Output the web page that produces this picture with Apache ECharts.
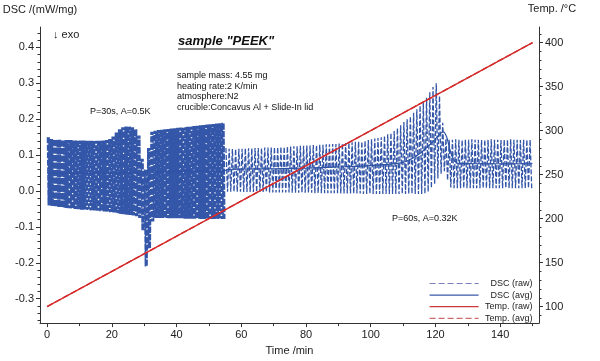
<!DOCTYPE html>
<html><head><meta charset="utf-8">
<script src="https://cdn.jsdelivr.net/npm/echarts@6/dist/echarts.min.js"></script>
<style>html,body{margin:0;padding:0;background:#fff}#c{width:600px;height:361px}</style>
</head><body><div id="c"></div>
<script>
// ---- tick labels ----
const xTicks = [0, 20, 40, 60, 80, 100, 120, 140];
const dscTicks = [-0.3, -0.2, -0.1, 0.0, 0.1, 0.2, 0.3, 0.4];
const tempTicks = [100, 150, 200, 250, 300, 350, 400];

// ---- DSC raw envelope, read per minute ----
// segment 1: minutes 0..54, P = 30 s (two cycles per minute)
const seg1Upper = [0.150,0.145,0.144,0.143,0.143,0.142,0.142,0.142,0.141,0.141,
  0.141,0.141,0.140,0.140,0.140,0.140,0.140,0.141,0.142,0.145,
  0.152,0.163,0.172,0.178,0.180,0.180,0.178,0.172,0.155,0.090,
  0.060,0.120,0.165,0.168,0.170,0.171,0.172,0.173,0.174,0.175,
  0.176,0.177,0.178,0.179,0.180,0.181,0.182,0.183,0.184,0.185,
  0.186,0.187,0.188,0.189,0.190];
const seg1Lower = [-0.040,-0.042,-0.044,-0.045,-0.046,-0.047,-0.048,-0.049,-0.050,-0.051,
  -0.052,-0.052,-0.053,-0.054,-0.054,-0.055,-0.056,-0.057,-0.058,-0.059,
  -0.060,-0.062,-0.064,-0.065,-0.066,-0.067,-0.068,-0.070,-0.075,-0.110,
  -0.210,-0.160,-0.085,-0.075,-0.075,-0.075,-0.075,-0.076,-0.076,-0.076,
  -0.076,-0.076,-0.077,-0.077,-0.077,-0.077,-0.077,-0.078,-0.078,-0.078,
  -0.078,-0.078,-0.078,-0.078,-0.078];
// segment 2: minutes 55..149, P = 60 s (one cycle per minute)
const seg2Upper = [0.120,0.118,0.117,0.117,0.118,0.118,0.119,0.119,0.119,0.120,
  0.120,0.120,0.121,0.121,0.121,0.122,0.122,0.123,0.123,0.124,
  0.124,0.125,0.125,0.126,0.126,0.127,0.127,0.128,0.128,0.129,
  0.129,0.130,0.130,0.131,0.131,0.132,0.133,0.134,0.135,0.136,
  0.137,0.138,0.138,0.140,0.142,0.144,0.146,0.148,0.150,0.154,
  0.158,0.162,0.167,0.175,0.183,0.192,0.200,0.208,0.218,0.228,
  0.238,0.248,0.260,0.275,0.290,0.300,0.265,0.190,0.146,0.143,
  0.143,0.144,0.143,0.142,0.143,0.143,0.144,0.143,0.143,0.142,
  0.143,0.143,0.144,0.143,0.143,0.142,0.143,0.143,0.144,0.143,
  0.143,0.142,0.143,0.143,0.143];
const seg2Lower = [-0.002,-0.002,-0.002,-0.002,-0.002,-0.003,-0.003,-0.003,-0.003,-0.003,
  -0.003,-0.003,-0.003,-0.004,-0.004,-0.004,-0.004,-0.004,-0.004,-0.004,
  -0.005,-0.005,-0.005,-0.005,-0.005,-0.005,-0.005,-0.006,-0.006,-0.006,
  -0.006,-0.006,-0.006,-0.006,-0.006,-0.007,-0.007,-0.007,-0.007,-0.007,
  -0.007,-0.007,-0.008,-0.008,-0.008,-0.008,-0.008,-0.008,-0.008,-0.008,
  -0.008,-0.008,-0.008,-0.008,-0.008,-0.008,-0.008,-0.008,-0.008,-0.008,
  -0.008,-0.008,-0.002,0.008,0.020,0.035,0.048,0.055,0.030,0.010,
  0.008,0.008,0.008,0.008,0.008,0.008,0.008,0.008,0.008,0.008,
  0.008,0.008,0.008,0.008,0.008,0.008,0.008,0.008,0.008,0.008,
  0.008,0.008,0.008,0.008,0.008];

// ---- DSC averaged ----
const avgTime  = [0, 10, 20, 25, 28, 29, 30, 31, 32, 35, 45, 54.5, 56, 70, 80, 90, 100, 106, 110, 112, 115, 118, 120, 122.4, 123.5, 124.5, 125.5, 127, 135, 150];
const avgValue = [0.050, 0.050, 0.050, 0.052, 0.050, 0.035, 0.010, 0.025, 0.050, 0.054, 0.055, 0.056, 0.060, 0.062, 0.064, 0.067, 0.071, 0.075, 0.080, 0.087, 0.103, 0.127, 0.145, 0.165, 0.150, 0.114, 0.090, 0.077, 0.076, 0.076];

// ---- temperature ----
const tempTime  = [0, 25, 50, 75, 100, 125, 150];
const tempValue = [100, 150, 200, 250, 300, 350, 400];

// build raw oscillation from the per-minute envelopes
const raw1 = [];
seg1Upper.forEach((u, m) => {
  for (let k = 0; k < 2; k++) {
    raw1.push([m + k * 0.5 + 0.125, u]);
    raw1.push([m + k * 0.5 + 0.375, seg1Lower[m]]);
  }
});
const raw2 = [];
seg2Upper.forEach((u, i) => {
  const m = 55 + i;
  raw2.push([m + 0.25, u]);
  raw2.push([m + 0.75, seg2Lower[i]]);
});
const avg = avgTime.map((t, i) => [t, avgValue[i]]);
const temp = tempTime.map((t, i) => [t, tempValue[i]]);

const range = (a, b, s) => { const r = []; for (let v = a; v <= b + 1e-9; v += s) r.push(+v.toFixed(4)); return r; };
const dscMinor = range(-0.36, 0.44, 0.02).filter(v => Math.abs(Math.round(v * 10) - v * 10) > 1e-6);
const tempMinor = range(90, 410, 10).filter(v => v % 50 !== 0);
const xMinor = range(10, 150, 20);

const FONT = 'Liberation Sans, Arial, sans-serif';
const AX = '#333';
const BLUE = '#3456a8';
const RED = '#d42a2a';

const chart = echarts.init(document.getElementById('c'), null, {renderer: 'canvas'});
const lbl = {color: '#222', fontSize: 11, fontFamily: FONT};
const noLine = {show: false, onZero: false};
chart.setOption({
  animation: false,
  backgroundColor: '#fff',
  textStyle: {fontFamily: FONT},
  grid: {left: 40, right: 61, top: 27, bottom: 30},
  xAxis: [{
    type: 'value', min: -2.2, max: 152,
    name: 'Time /min', nameLocation: 'middle', nameGap: 17,
    nameTextStyle: {color: '#222', fontSize: 11, fontFamily: FONT},
    axisLine: {show: true, onZero: false, lineStyle: {color: AX}},
    axisTick: {show: true, length: 4, customValues: xTicks, lineStyle: {color: AX}},
    axisLabel: Object.assign({customValues: xTicks, margin: 6}, lbl),
    splitLine: {show: false}
  }, {
    type: 'value', min: -2.2, max: 152, position: 'bottom',
    axisLine: noLine,
    axisTick: {show: true, length: 3, customValues: xMinor, lineStyle: {color: AX}},
    axisLabel: {show: false}, splitLine: {show: false}
  }],
  yAxis: [{
    type: 'value', min: -0.368, max: 0.457, position: 'left',
    axisLine: {show: true, onZero: false, lineStyle: {color: AX}},
    axisTick: {show: true, length: 4, customValues: dscTicks, lineStyle: {color: AX}},
    axisLabel: Object.assign({customValues: dscTicks, margin: 6, formatter: v => v.toFixed(1)}, lbl),
    splitLine: {show: false}
  }, {
    type: 'value', min: 81.2, max: 417.7, position: 'right',
    axisLine: {show: true, onZero: false, lineStyle: {color: AX}},
    axisTick: {show: true, length: 4, customValues: tempTicks, lineStyle: {color: AX}},
    axisLabel: Object.assign({customValues: tempTicks, margin: 6}, lbl),
    splitLine: {show: false}
  }, {
    type: 'value', min: -0.368, max: 0.457, position: 'left',
    axisLine: noLine,
    axisTick: {show: true, length: 2.5, customValues: dscMinor, lineStyle: {color: AX}},
    axisLabel: {show: false}, splitLine: {show: false}
  }, {
    type: 'value', min: 81.2, max: 417.7, position: 'right',
    axisLine: noLine,
    axisTick: {show: true, length: 2.5, customValues: tempMinor, lineStyle: {color: AX}},
    axisLabel: {show: false}, splitLine: {show: false}
  }],
  legend: {
    orient: 'vertical', left: 429, top: 279, padding: 0,
    itemWidth: 49, itemHeight: 8, itemGap: 2.6,
    selectedMode: false,
    textStyle: {fontSize: 9, color: '#222', fontFamily: FONT,
      rich: {a: {width: 49, align: 'right', fontSize: 9, color: '#222', fontFamily: FONT}}},
    formatter: n => '{a|' + n + '}',
    data: [
      {name: 'DSC (raw)', itemStyle: {opacity: 0}, lineStyle: {color: '#7a80c0', type: [6, 3], width: 1.2}},
      {name: 'DSC (avg)', itemStyle: {opacity: 0}, lineStyle: {color: '#3a58aa', width: 1.2}},
      {name: 'Temp. (raw)', itemStyle: {opacity: 0}, lineStyle: {color: '#cc3a3a', width: 1.2}},
      {name: 'Temp. (avg)', itemStyle: {opacity: 0}, lineStyle: {color: '#d06a6a', type: [6, 3], width: 1.2}}
    ]
  },
  series: [{
    name: 'DSC (raw)', type: 'line', xAxisIndex: 0, yAxisIndex: 0,
    data: raw1, symbol: 'none', z: 2,
    lineStyle: {color: BLUE, width: 1.6, type: [6, 1.5]}
  }, {
    name: 'DSC (raw)', type: 'line', xAxisIndex: 0, yAxisIndex: 0,
    data: raw2, symbol: 'none', z: 2,
    lineStyle: {color: BLUE, width: 1.3, type: [5, 2]}
  }, {
    name: 'DSC (avg)', type: 'line', xAxisIndex: 0, yAxisIndex: 0,
    data: avg, symbol: 'none', smooth: 0.3, z: 3,
    lineStyle: {color: '#2e52a6', width: 1.2}
  }, {
    name: 'Temp. (raw)', type: 'line', xAxisIndex: 0, yAxisIndex: 1,
    data: temp, symbol: 'none', z: 4,
    lineStyle: {color: RED, width: 1.4}
  }, {
    name: 'Temp. (avg)', type: 'line', xAxisIndex: 0, yAxisIndex: 1,
    data: temp, symbol: 'none', z: 5,
    lineStyle: {color: RED, width: 1.4, type: [6, 3]}
  }],
  graphic: [
    {type: 'text', x: 40, y: 4, style: {text: 'DSC /(mW/mg)', align: 'center', fill: '#222', font: '11px ' + FONT}},
    {type: 'text', x: 552, y: 3, style: {text: 'Temp. /°C', align: 'center', fill: '#222', font: '11px ' + FONT}},
    {type: 'text', left: 53, top: 29, style: {text: '↓ exo', fill: '#222', font: '11px ' + FONT}},
    {type: 'text', left: 178, top: 35, style: {text: 'sample "PEEK"', fill: '#111', font: 'italic bold 13px ' + FONT}},
    {type: 'line', shape: {x1: 178, y1: 49, x2: 271, y2: 49}, style: {stroke: '#111', lineWidth: 1}},
    {type: 'text', left: 177, top: 70, style: {text: 'sample mass: 4.55 mg\nheating rate:2 K/min\natmosphere:N2\ncrucible:Concavus Al + Slide-In lid', fill: '#111', font: '9px ' + FONT, lineHeight: 10.7}},
    {type: 'text', left: 90, top: 107, style: {text: 'P=30s, A=0.5K', fill: '#111', font: '9px ' + FONT}},
    {type: 'text', left: 392, top: 214, style: {text: 'P=60s, A=0.32K', fill: '#111', font: '9px ' + FONT}}
  ]
});
</script></body></html>
